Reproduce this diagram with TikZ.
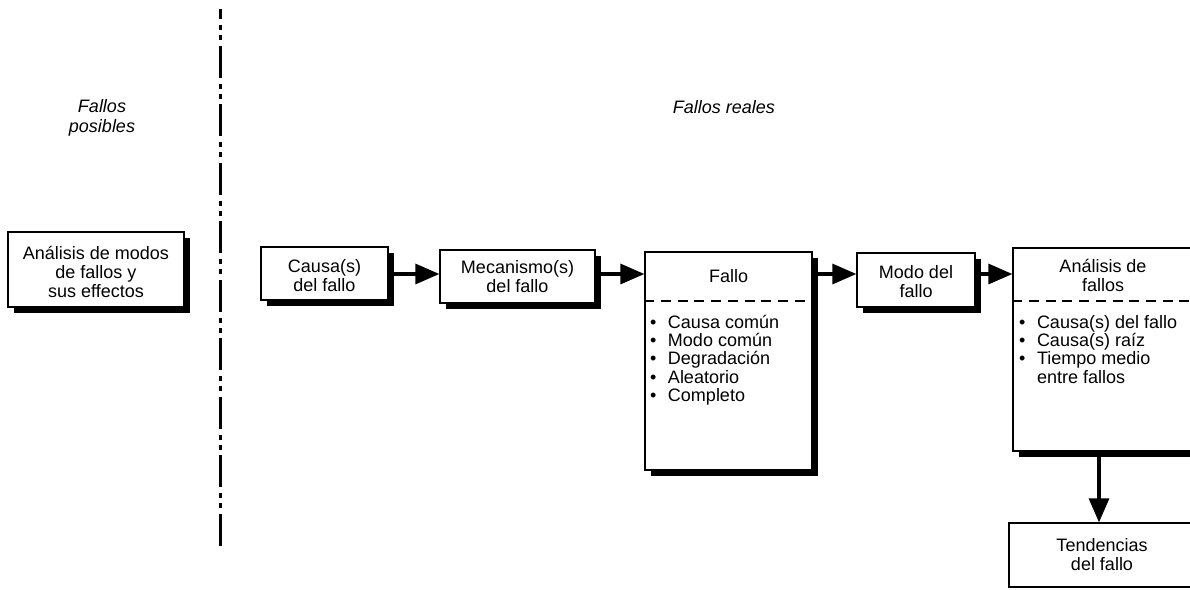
\documentclass[tikz,border=0pt]{standalone}
\usepackage{fontspec}
\setmainfont{Liberation Sans}
\usetikzlibrary{arrows.meta,shadows,calc}
\begin{document}
\begin{tikzpicture}[x=1pt,y=-1pt,
  every node/.style={font=\fontsize{18}{19}\selectfont, inner sep=0pt},
  plainbox/.style={draw, line width=1.3pt, fill=white, align=center},
  box/.style={plainbox, drop shadow={shadow xshift=6pt, shadow yshift=-6pt, fill=black, opacity=1}},
  arr/.style={line width=3.2pt, -{Triangle[length=24pt,width=20pt]}},
  sep/.style={line width=2.2pt, dash pattern=on 10pt off 6.7pt},
  divider/.style={line width=3pt, dash pattern=on 32pt off 6pt on 5pt off 5pt on 5pt off 5.5pt, dash phase=22pt},
  lbl/.style={font=\fontsize{18}{19.5}\selectfont\itshape, align=center},
  listtext/.style={anchor=north west, align=left, font=\fontsize{18}{18.3}\selectfont}
]
\useasboundingbox (0,0) rectangle (1190,589);

% divider
\coordinate (divtop) at (220,9.4);
\coordinate (divbot) at (220,549);
\draw[divider] (divtop) -- (divbot);

% labels
\node[lbl] (posibles) at (102,118) {Fallos\\posibles};
\node[lbl] (reales) at (724,107) {Fallos reales};

% boxes
\node[box, minimum width=176pt, minimum height=75pt] (fmea) at (96,269.5) {\rule{0pt}{19pt}Análisis de modos\\de fallos y\\sus effectos};
\node[box, minimum width=127pt, minimum height=53pt] (causa) at (324.5,273.5) {\rule{0pt}{17pt}Causa(s)\\del fallo};
\node[box, minimum width=155pt, minimum height=53pt] (meca) at (517.5,276.5) {Mecanismo(s)\\del fallo};
\node[box, minimum width=167pt, minimum height=218pt] (fallo) at (728.5,361) {};
\node[box, minimum width=118pt, minimum height=54pt] (modo) at (916,280) {\rule{0pt}{16pt}Modo del\\fallo};
\node[box, minimum width=180pt, minimum height=203pt] (anal) at (1103,349.5) {};
\node[plainbox, minimum width=186pt, minimum height=64pt] (tend) at (1102,555) {Tendencias\\del fallo};

% Fallo contents
\node (fallotitle) at ($(fallo.north)+(0,25)$) {Fallo};
\draw[sep] ($(fallo.north west)+(0,50)$) -- ($(fallo.north east)+(0,50)$);
\node[listtext] (fallolist) at (650,314.5) {\rule{0pt}{13.5pt}\textbullet\hspace*{11.5pt}Causa común\\
\textbullet\hspace*{11.5pt}Modo común\\
\textbullet\hspace*{11.5pt}Degradación\\
\textbullet\hspace*{11.5pt}Aleatorio\\
\textbullet\hspace*{11.5pt}Completo};

% Analisis contents
\node[align=center] (analtitle) at ($(anal.north)+(0,28)$) {Análisis de\\fallos};
\draw[sep] ($(anal.north west)+(0,54)$) -- ($(anal.north east)+(0,54)$);
\node[listtext] (anallist) at (1019,314.5) {\rule{0pt}{13.5pt}\textbullet\hspace*{11.5pt}Causa(s) del fallo\\
\textbullet\hspace*{11.5pt}Causa(s) raíz\\
\textbullet\hspace*{11.5pt}Tiempo medio\\
\phantom{\textbullet}\hspace*{11.5pt}entre fallos};

% connectors
\coordinate (lvl) at (0,274);
\coordinate (vx) at (1099,0);
\draw[arr] (causa.east |- lvl) -- (meca.west |- lvl);
\draw[arr] (meca.east |- lvl) -- (fallo.west |- lvl);
\draw[arr] (fallo.east |- lvl) -- (modo.west |- lvl);
\draw[arr] (modo.east |- lvl) -- (anal.west |- lvl);
\draw[arr] (anal.south -| vx) -- (tend.north -| vx);
\end{tikzpicture}
\end{document}
